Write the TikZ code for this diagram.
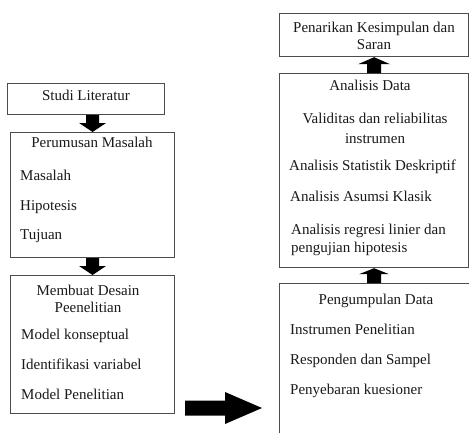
\documentclass[tikz,border=0pt]{standalone}
\usepackage{fontspec}
\setmainfont{Liberation Serif}
\usetikzlibrary{calc}
\begin{document}
\begin{tikzpicture}[x=1pt,y=-1pt,
  box/.style={draw=black!70,line width=1.2pt,inner sep=0pt,anchor=north west},
  txt/.style={inner sep=0pt,font=\fontsize{15}{17}\selectfont,text=black!90},
  ltxt/.style={txt,anchor=mid west},
  ctxt/.style={txt,anchor=mid,align=center},
  arrowfill/.style={fill=black}]
\useasboundingbox (0,0) rectangle (469,432);
% left column boxes
\node[box,minimum width=157pt,minimum height=31pt] (studi) at (7,83) {};
\node[ctxt] (studiT) at (86,98) {Studi Literatur};
\node[box,minimum width=164pt,minimum height=125pt] (perum) at (10,132) {};
\node[ctxt] (perumT) at (92,145) {Perumusan Masalah};
\node[ltxt] (p1) at (20,178) {Masalah};
\node[ltxt] (p2) at (20,208) {Hipotesis};
\node[ltxt] (p3) at (20,237) {Tujuan};
\node[box,minimum width=164pt,minimum height=138pt] (desain) at (10,275) {};
\node[txt,anchor=north] (desainT) at (88,283) {\begin{tabular}{@{}c@{}}Membuat Desain\\[0pt]Peenelitian\end{tabular}};
\node[ltxt] (d1) at (21,337) {Model konseptual};
\node[ltxt] (d2) at (21,367) {Identifikasi variabel};
\node[ltxt] (d3) at (21,397) {Model Penelitian};
% right column boxes
\node[box,minimum width=189pt,minimum height=43pt] (tarik) at (279,13) {};
\node[txt,anchor=north] (tarikT) at (374,20) {\begin{tabular}{@{}c@{}}Penarikan Kesimpulan dan\\[0pt]Saran\end{tabular}};
\node[box,minimum width=189pt,minimum height=194pt] (anal) at (279,73) {};
\node[ctxt] (analT) at (370,88) {Analisis Data};
\node[txt,anchor=north] (a1) at (375,111) {\begin{tabular}{@{}c@{}}Validitas dan reliabilitas\\[3pt]instrumen\end{tabular}};
\node[ltxt] (a2) at (289,168) {Analisis Statistik Deskriptif};
\node[ltxt] (a3) at (290,199) {Analisis Asumsi Klasik};
\node[txt,anchor=north west] (a4) at (291,222) {\begin{tabular}{@{}l@{}}Analisis regresi linier dan\\[1pt]pengujian hipotesis\end{tabular}};
\node[box,minimum width=200pt,minimum height=160pt] (kumpul) at (279,283) {};
\node[ctxt] (kumpulT) at (376,302) {Pengumpulan Data};
\node[ltxt] (k1) at (290,332) {Instrumen Penelitian};
\node[ltxt] (k2) at (290,362) {Responden dan Sampel};
\node[ltxt] (k3) at (290,392) {Penyebaran kuesioner};
% down block arrows
\fill[arrowfill] let \p1=(studi.south), \p2=(perum.north) in
  (\x2-6.5pt,\y1) -- (\x2+6.5pt,\y1) -- (\x2+6.5pt,\y2+9pt) -- (\x2+13.5pt,\y2+9pt)
  -- (\x2,\y2) -- (\x2-13.5pt,\y2+9pt) -- (\x2-6.5pt,\y2+9pt) -- cycle;
\fill[arrowfill] let \p1=(perum.south), \p2=(desain.north) in
  (\x2-6.5pt,\y1) -- (\x2+6.5pt,\y1) -- (\x2+6.5pt,\y2+9pt) -- (\x2+13.5pt,\y2+9pt)
  -- (\x2,\y2) -- (\x2-13.5pt,\y2+9pt) -- (\x2-6.5pt,\y2+9pt) -- cycle;
% up block arrows
\fill[arrowfill] let \p1=(anal.north), \p2=(tarik.south) in
  (\x2-7pt,\y1) -- (\x2+7pt,\y1) -- (\x2+7pt,\y2-7pt) -- (\x2+16pt,\y2-7pt)
  -- (\x2,\y2) -- (\x2-16pt,\y2-7pt) -- (\x2-7pt,\y2-7pt) -- cycle;
\fill[arrowfill] let \p1=(kumpul.north), \p2=(anal.south) in
  (\x2-7pt,\y1) -- (\x2+7pt,\y1) -- (\x2+7pt,\y2-6pt) -- (\x2+15pt,\y2-6pt)
  -- (\x2,\y2) -- (\x2-15pt,\y2-6pt) -- (\x2-7pt,\y2-6pt) -- cycle;
% right block arrow
\coordinate (ra1) at (185,408);
\coordinate (ra2) at (262,408);
\fill[arrowfill] let \p1=(ra1), \p2=(ra2) in
  (\x1,\y1+7.5pt) -- (\x2-37pt,\y1+7.5pt) -- (\x2-37pt,\y1+16pt) -- (\x2,\y2)
  -- (\x2-37pt,\y1-16pt) -- (\x2-37pt,\y1-7.5pt) -- (\x1,\y1-7.5pt) -- cycle;
\end{tikzpicture}
\end{document}
